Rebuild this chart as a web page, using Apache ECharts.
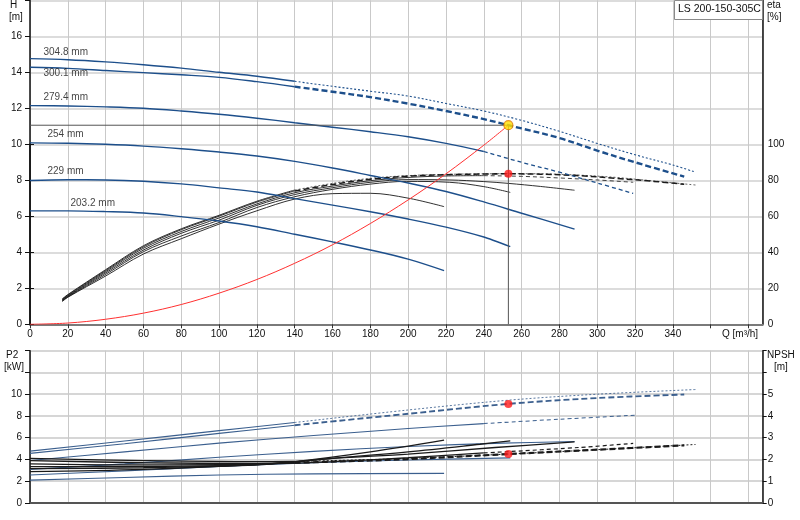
<!DOCTYPE html>
<html><head><meta charset="utf-8">
<script src="https://cdn.jsdelivr.net/npm/echarts@6/dist/echarts.min.js"></script>
<style>html,body{margin:0;padding:0;background:#fff}#c{width:800px;height:520px}</style>
</head><body><div id="c"></div>
<script>
// ---------- data ----------
const diameters = ['304.8 mm', '300.1 mm', '279.4 mm', '254 mm', '229 mm', '203.2 mm'];
const xTicks = [0,20,40,60,80,100,120,140,160,180,200,220,240,260,280,300,320,340];

const H_304 = [[0,14.76],[20,14.7],[40,14.58],[60,14.42],[80,14.23],[100,14.0],[120,13.78],[140,13.5],[160,13.22],[180,12.95],[200,12.68],[220,12.27],[240,11.85],[260,11.33],[280,10.72],[300,10.05],[320,9.42],[340,8.85],[352,8.45]];
const H_300 = [[0,14.28],[20,14.22],[40,14.1],[60,13.98],[80,13.86],[100,13.72],[120,13.48],[140,13.2],[160,12.92],[180,12.62],[200,12.26],[220,11.85],[240,11.4],[253,11.06],[260,10.88],[280,10.35],[300,9.65],[320,9.0],[346,8.2]];
const H_279 = [[0,12.15],[20,12.13],[40,12.08],[60,12.0],[80,11.85],[100,11.67],[120,11.45],[140,11.2],[160,10.95],[180,10.7],[200,10.42],[220,10.05],[240,9.6],[260,9.0],[280,8.45],[300,7.85],[319,7.27]];
const H_254 = [[0,10.08],[20,10.06],[40,10.0],[60,9.9],[80,9.75],[100,9.57],[120,9.35],[140,9.05],[160,8.68],[180,8.27],[200,7.85],[220,7.38],[240,6.8],[260,6.17],[288,5.29]];
const H_229 = [[0,7.99],[20,8.03],[40,8.02],[60,7.95],[80,7.8],[100,7.58],[120,7.35],[140,6.98],[160,6.62],[180,6.25],[200,5.85],[220,5.4],[240,4.85],[254,4.31]];
const H_203 = [[0,6.3],[20,6.3],[40,6.26],[60,6.18],[80,5.98],[100,5.74],[120,5.42],[140,5.0],[160,4.58],[180,4.13],[200,3.62],[219,2.98]];

const ETA_304 = [[17,14],[20,16.5],[40,30.3],[60,43.6],[80,53],[100,60.5],[120,68.3],[140,74.5],[160,78.2],[180,81],[200,82.5],[220,83.2],[240,83.5],[253,83.6],[270,83.5],[290,82.8],[310,81.5],[330,79.5],[352,77.3]];
const ETA_300 = [[17,13.8],[20,16.2],[40,29.8],[60,43],[80,52.5],[100,60],[120,67.8],[140,74],[160,77.6],[180,80.5],[200,82.2],[220,83],[240,83.4],[253,83.5],[270,83.3],[290,82.5],[310,81],[330,79.3],[346,77.7]];
const ETA_279 = [[17,13.5],[20,15.8],[40,29.2],[60,42.2],[80,51.5],[100,59],[120,66.8],[140,73],[160,76.7],[180,79.7],[200,81.5],[220,82.3],[240,82.5],[260,82.1],[280,81.2],[300,80.1],[319,78.8]];
const ETA_254 = [[17,13.2],[20,15.5],[40,28.5],[60,41.2],[80,50.5],[100,57.8],[120,66],[140,72],[160,75.8],[180,78.8],[200,80.3],[222,80.1],[240,79.2],[253,78.2],[270,76.5],[288,74.4]];
const ETA_229 = [[17,13],[20,15.2],[40,27.7],[60,40.3],[80,49],[100,56.5],[120,64.8],[140,70.8],[160,74.9],[180,77.8],[199,79.3],[222,78.8],[240,76.4],[254,73.2]];
const ETA_203 = [[17,12.6],[20,15],[40,26.8],[60,39],[80,47.5],[100,55.6],[120,63],[140,69.5],[160,72.5],[180,72.7],[200,70],[219,65.3]];

const SYS = [[0,0],[20,0.07],[40,0.28],[60,0.62],[80,1.1],[100,1.73],[120,2.49],[140,3.39],[160,4.42],[180,5.6],[200,6.91],[220,8.36],[240,9.95],[253,11.06]];

const P2_304 = [[0,4.77],[50,5.7],[100,6.65],[140,7.4],[200,8.55],[253,9.45],[300,10.0],[352,10.43]];
const P2_300 = [[0,4.56],[50,5.45],[100,6.4],[140,7.15],[200,8.2],[253,9.11],[300,9.65],[346,9.97]];
const P2_279 = [[0,3.9],[50,4.7],[100,5.5],[150,6.2],[200,6.85],[240,7.3],[280,7.7],[320,8.07]];
const P2_254 = [[0,3.09],[50,3.6],[100,4.2],[150,4.75],[200,5.2],[250,5.5],[288,5.65]];
const P2_229 = [[0,2.57],[50,2.95],[100,3.35],[150,3.7],[200,3.95],[254,4.15]];
const P2_203 = [[0,2.1],[50,2.35],[100,2.58],[150,2.68],[219,2.72]];

const NPSH_304 = [[0,2.05],[60,1.95],[120,1.9],[140,1.91],[160,1.95],[200,2.05],[253,2.25],[300,2.45],[352,2.69]];
const NPSH_300 = [[0,1.95],[60,1.85],[120,1.82],[140,1.85],[160,1.9],[200,2.02],[253,2.25],[300,2.45],[346,2.65]];
const NPSH_279 = [[0,1.8],[60,1.75],[120,1.78],[160,1.9],[200,2.08],[240,2.3],[290,2.55],[319,2.74]];
const NPSH_254 = [[0,1.67],[60,1.68],[120,1.76],[160,2.05],[200,2.25],[246,2.55],[288,2.81]];
const NPSH_229 = [[0,1.58],[60,1.62],[120,1.75],[160,2.05],[200,2.35],[238,2.7],[254,2.86]];
const NPSH_203 = [[0,1.44],[60,1.55],[120,1.77],[140,1.9],[180,2.35],[219,2.89]];

const duty = {q: 253, h: 11.06, eta: 83.6, p2: 9.11, npsh: 2.25};
const modelName = 'LS 200-150-305C';

// ---------- styles ----------
const Q_MAX = 387.5;
const breaks = [140, 140, 240, null, null, null];
const dashStyles = [{type:[2,2], w:1}, {type:[6,3], w:2.2}, {type:[4,3], w:1.2}, null, null, null];
const labelOffsets = [[13,-6],[13,6],[13,-8],[17,-9],[17,-9],[40,-8]];
const BLUE = '#1d4f8b', P2BLUE = '#3b5f8e', BLACK = '#1a1a1a';
const FONT = 'Liberation Sans, Arial, sans-serif';

function curve(data, i, color, width, xIdx, yIdx, z) {
  const base = {type:'line', xAxisIndex:xIdx, yAxisIndex:yIdx, showSymbol:false, symbol:'none',
    smooth:0.35, silent:true, z:z||3, animation:false};
  const br = breaks[i];
  if (br == null) return [Object.assign({}, base, {data, lineStyle:{color, width}})];
  const ds = dashStyles[i];
  return [
    Object.assign({}, base, {data: data.filter(p => p[0] <= br), lineStyle:{color, width}}),
    Object.assign({}, base, {data: data.filter(p => p[0] >= br), lineStyle:{color, width: ds.w * width / 1.3, type: ds.type}})
  ];
}

const Hs = [H_304, H_300, H_279, H_254, H_229, H_203];
const ETAs = [ETA_304, ETA_300, ETA_279, ETA_254, ETA_229, ETA_203];
const P2s = [P2_304, P2_300, P2_279, P2_254, P2_229, P2_203];
const NPSHs = [NPSH_304, NPSH_300, NPSH_279, NPSH_254, NPSH_229, NPSH_203];

let series = [];
Hs.forEach((d, i) => { series = series.concat(curve(d, i, BLUE, 1.4, 0, 0, 4)); });
ETAs.forEach((d, i) => { series = series.concat(curve(d, i, BLACK, 0.9, 1, 2, 3)); });
P2s.forEach((d, i) => { series = series.concat(curve(d, i, P2BLUE, 1.1, 2, 3, 3)); });
NPSHs.forEach((d, i) => { series = series.concat(curve(d, i, BLACK, 1.3, 2, 4, 4)); });

// diameter labels at curve starts
Hs.forEach((d, i) => {
  series.push({type:'scatter', xAxisIndex:0, yAxisIndex:0, symbolSize:1, silent:true,
    itemStyle:{color:'transparent'}, z:6,
    data:[d[0]],
    label:{show:true, position:'right', distance:0, offset:labelOffsets[i], formatter:diameters[i],
      color:'#111', fontSize:10, fontFamily:FONT}});
});

// system curve
series.push({type:'line', xAxisIndex:0, yAxisIndex:0, data:SYS, showSymbol:false, smooth:0.35,
  lineStyle:{color:'#ff3030', width:1}, z:5, silent:true});
// duty guide lines
series.push({type:'line', xAxisIndex:0, yAxisIndex:0, data:[[0,duty.h],[duty.q,duty.h],[duty.q,0]], showSymbol:false,
  lineStyle:{color:'#555', width:1}, z:5, silent:true});
// duty points
series.push({type:'scatter', xAxisIndex:0, yAxisIndex:0, data:[[duty.q,duty.h]], symbolSize:9,
  itemStyle:{color:'#ffe000', borderColor:'#e07a00', borderWidth:1.2}, z:10, silent:true});
series.push({type:'scatter', xAxisIndex:1, yAxisIndex:2, data:[[duty.q,duty.eta]], symbolSize:8,
  itemStyle:{color:'#ff1a1a'}, z:10, silent:true});
series.push({type:'scatter', xAxisIndex:2, yAxisIndex:3, data:[[duty.q,duty.p2]], symbolSize:8,
  itemStyle:{color:'#ff1a1a'}, z:10, silent:true});
series.push({type:'scatter', xAxisIndex:2, yAxisIndex:4, data:[[duty.q,duty.npsh]], symbolSize:8,
  itemStyle:{color:'#ff1a1a'}, z:10, silent:true});

const lbl = {color:'#111', fontSize:10, fontFamily:FONT};
const xBase = {type:'value', min:0, max:Q_MAX, interval:20};

const option = {
  animation:false,
  textStyle:{fontFamily:FONT},
  grid:[
    {left:30, right:37.3, top:0.3, height:324, containLabel:false},
    {left:30, right:37.3, top:144.1, height:180.2, containLabel:false},
    {left:30, right:37.3, top:350.7, height:152.3, containLabel:false}
  ],
  xAxis:[
    Object.assign({}, xBase, {gridIndex:0,
      axisLine:{show:true, onZero:false, lineStyle:{color:'#7a7a7a', width:2}},
      axisTick:{show:true, length:4, lineStyle:{color:'#333'}},
      axisLabel:Object.assign({}, lbl, {margin:5, showMaxLabel:false, formatter:v => xTicks.indexOf(v) >= 0 ? String(v) : ''}),
      splitLine:{show:true, lineStyle:{color:'#c9c9c9', width:1}}}),
    Object.assign({}, xBase, {gridIndex:1, show:false, splitLine:{show:false}}),
    Object.assign({}, xBase, {gridIndex:2,
      axisLine:{show:true, onZero:false, lineStyle:{color:'#555', width:2}},
      axisTick:{show:false}, axisLabel:{show:false},
      splitLine:{show:true, lineStyle:{color:'#c9c9c9', width:1}}})
  ],
  yAxis:[
    {type:'value', gridIndex:0, position:'left', min:0, max:18, interval:2,
      axisLine:{show:true, lineStyle:{color:'#111', width:1.5}},
      axisTick:{show:true, length:5, lineStyle:{color:'#111'}},
      axisLabel:Object.assign({}, lbl, {margin:8, formatter:v => v <= 16 ? String(v) : ''}),
      splitLine:{show:true, lineStyle:{color:'#dcdcdc', width:2}}},
    {type:'value', gridIndex:0, position:'right', min:0, max:18,
      axisLine:{show:true, lineStyle:{color:'#111', width:1.5}},
      axisTick:{show:false}, axisLabel:{show:false}, splitLine:{show:false}},
    {type:'value', gridIndex:1, position:'right', min:0, max:100, interval:20,
      axisLine:{show:true, lineStyle:{color:'#111', width:1.5}},
      axisTick:{show:true, length:4, lineStyle:{color:'#111'}},
      axisLabel:Object.assign({}, lbl, {margin:5}),
      splitLine:{show:false}},
    {type:'value', gridIndex:2, position:'left', min:0, max:14, interval:2,
      axisLine:{show:true, lineStyle:{color:'#111', width:1.5}},
      axisTick:{show:true, length:5, lineStyle:{color:'#111'}},
      axisLabel:Object.assign({}, lbl, {margin:8, formatter:v => v <= 10 ? String(v) : ''}),
      splitLine:{show:true, lineStyle:{color:'#d6d6d6', width:2}}},
    {type:'value', gridIndex:2, position:'right', min:0, max:7, interval:1,
      axisLine:{show:true, lineStyle:{color:'#111', width:1.5}},
      axisTick:{show:true, length:4, lineStyle:{color:'#111'}},
      axisLabel:Object.assign({}, lbl, {margin:5, formatter:v => v <= 5 ? String(v) : ''}),
      splitLine:{show:false}}
  ],
  graphic:[
    {type:'text', left:10, top:0, style:{text:'H', font:'10px ' + FONT, fill:'#111'}},
    {type:'text', left:9, top:12, style:{text:'[m]', font:'10px ' + FONT, fill:'#111'}},
    {type:'text', left:767, top:0, style:{text:'eta', font:'10px ' + FONT, fill:'#111'}},
    {type:'text', left:767, top:12, style:{text:'[%]', font:'10px ' + FONT, fill:'#111'}},
    {type:'text', left:6, top:350, style:{text:'P2', font:'10px ' + FONT, fill:'#111'}},
    {type:'text', left:4, top:362, style:{text:'[kW]', font:'10px ' + FONT, fill:'#111'}},
    {type:'text', left:767, top:350, style:{text:'NPSH', font:'10px ' + FONT, fill:'#111'}},
    {type:'text', left:774, top:362, style:{text:'[m]', font:'10px ' + FONT, fill:'#111'}},
    {type:'text', left:722, top:329, style:{text:'Q [m³/h]', font:'10px ' + FONT, fill:'#111'}},
    {type:'rect', left:674, top:0, z:20, shape:{width:88, height:19},
      style:{fill:'#fff', stroke:'#8a8a8a', lineWidth:1}},
    {type:'text', left:678, top:4, z:21, style:{text:modelName, font:'10.5px ' + FONT, fill:'#111'}}
  ],
  series
};
const chart = echarts.init(document.getElementById('c'), null, {renderer:'canvas'});
chart.setOption(option);
</script></body></html>
